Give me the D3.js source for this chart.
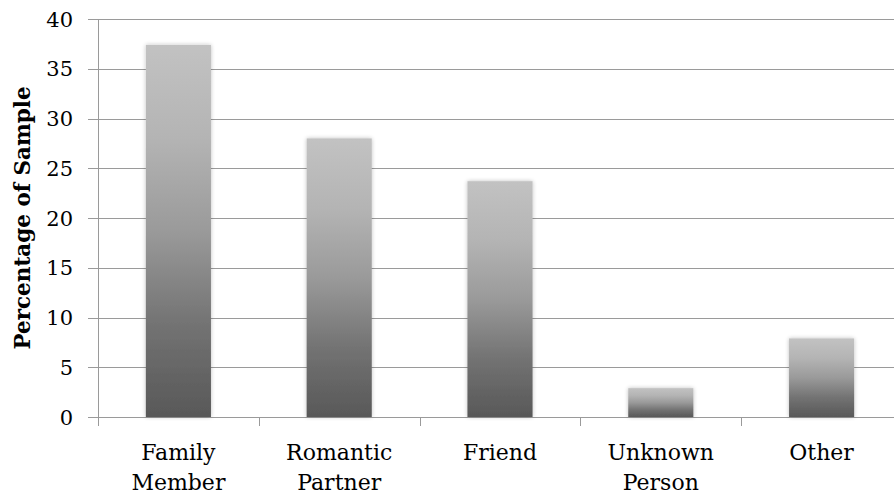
<!DOCTYPE html>
<html><head><meta charset="utf-8">
<script src="https://cdn.jsdelivr.net/npm/d3@7"></script>
<style>body{margin:0;background:#fff}svg{display:block}</style>
</head><body>
<svg id="c" width="894" height="499"></svg>
<script>
const categories = [["Family","Member"],["Romantic","Partner"],["Friend"],["Unknown","Person"],["Other"]];
const values = [37.4, 28.0, 23.7, 2.9, 7.9];
const yTicks = [0,5,10,15,20,25,30,35,40];
const yTitle = "Percentage of Sample";

(function(){
const svg = d3.select("#c");
const pL = 98, pR = 902, pT = 19, pB = 417;
const x = d3.scaleBand().domain(d3.range(categories.length)).range([pL, pR]);
const y = d3.scaleLinear().domain([0, 40]).range([pB, pT]);
const font = "'DejaVu Serif', serif";

const defs = svg.append("defs");
const g = defs.append("linearGradient").attr("id","bg").attr("x1",0).attr("y1",1).attr("x2",0).attr("y2",0);
[["0%","#585858"],["25%","#737373"],["50%","#9a9a9a"],["75%","#b4b4b4"],["100%","#c2c2c2"]]
  .forEach(s => g.append("stop").attr("offset",s[0]).attr("stop-color",s[1]));
const f = defs.append("filter").attr("id","sh").attr("x","-20%").attr("y","-20%").attr("width","140%").attr("height","140%");
f.append("feGaussianBlur").attr("in","SourceAlpha").attr("stdDeviation",2).attr("result","b");
f.append("feComponentTransfer").attr("in","b").attr("result","b2").append("feFuncA").attr("type","linear").attr("slope",0.25);
const m = f.append("feMerge"); m.append("feMergeNode").attr("in","b2"); m.append("feMergeNode").attr("in","SourceGraphic");

svg.append("g").selectAll("line").data(yTicks).join("line")
  .attr("x1", pL-10).attr("x2", pR).attr("y1", d=>Math.round(y(d))+0.5).attr("y2", d=>Math.round(y(d))+0.5)
  .attr("stroke", "#9a9a9a").attr("stroke-width", 1);
svg.append("line").attr("x1",pL+0.5).attr("x2",pL+0.5).attr("y1",pT).attr("y2",pB+1).attr("stroke","#9a9a9a");
svg.append("g").selectAll("line").data(d3.range(categories.length+1)).join("line")
  .attr("x1", d=>Math.round(pL + d*x.bandwidth())+0.5).attr("x2", d=>Math.round(pL + d*x.bandwidth())+0.5)
  .attr("y1", pB).attr("y2", pB+9).attr("stroke","#9a9a9a");

svg.append("g").selectAll("text").data(yTicks).join("text")
  .attr("x", 73).attr("y", d=>y(d)).attr("dy","0.36em").attr("text-anchor","end")
  .attr("font-family", font).attr("font-size", 21).attr("fill","#000").text(d=>d);

const bw = x.bandwidth()*0.405;
svg.append("g").selectAll("rect").data(values).join("rect")
  .attr("x", (d,i)=>x(i)+x.bandwidth()/2-bw/2).attr("width", bw)
  .attr("y", d=>y(d)).attr("height", d=>pB-y(d))
  .attr("fill","url(#bg)").attr("filter","url(#sh)");

const cl = svg.append("g").selectAll("text").data(categories).join("text")
  .attr("x", (d,i)=>x(i)+x.bandwidth()/2).attr("y", 460).attr("text-anchor","middle")
  .attr("font-family", font).attr("font-size", 22).attr("fill","#000");
cl.selectAll("tspan").data(d=>d).join("tspan")
  .attr("x", function(){return this.parentNode.getAttribute("x");})
  .attr("dy", (d,i)=>i===0?0:30).text(d=>d);

svg.append("text").attr("transform","translate(30,218) rotate(-90)").attr("text-anchor","middle")
  .attr("font-family", font).attr("font-weight","bold").attr("font-size", 21.5).attr("fill","#000").text(yTitle);
})();
</script>
</body></html>
